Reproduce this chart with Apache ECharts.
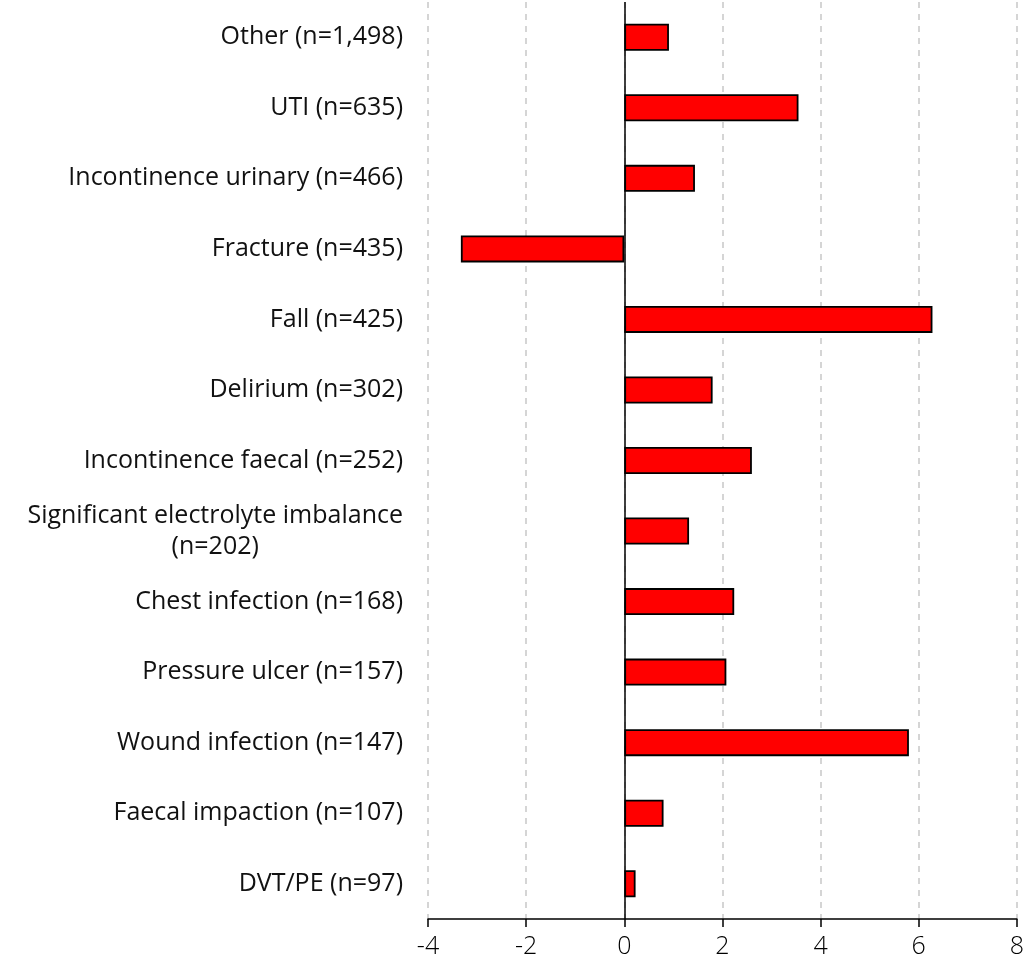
<!DOCTYPE html>
<html><head><meta charset="utf-8">
<script src="https://cdn.jsdelivr.net/npm/echarts@6/dist/echarts.min.js"></script>
<style>html,body{margin:0;padding:0;background:#fff}#c{width:1027px;height:972px}</style>
</head><body><div id="c"></div>
<script>
const categories = ["Other (n=1,498)","UTI (n=635)","Incontinence urinary (n=466)","Fracture (n=435)","Fall (n=425)","Delirium (n=302)","Incontinence faecal (n=252)","Significant electrolyte imbalance\n(n=202)","Chest infection (n=168)","Pressure ulcer (n=157)","Wound infection (n=147)","Faecal impaction (n=107)","DVT/PE (n=97)"];
const values = [0.91, 3.55, 1.44, -3.33, 6.28, 1.80, 2.60, 1.32, 2.24, 2.08, 5.80, 0.80, 0.23];
const xTicks = {min: -4, max: 8, interval: 2};

const chart = echarts.init(document.getElementById('c'));
const FONT = 'Open Sans';
const FW = 400;
chart.setOption({
  animation: false,
  grid: {left: 428, right: 10, top: 2, bottom: 53, containLabel: false},
  xAxis: {
    type: 'value', min: xTicks.min, max: xTicks.max, interval: xTicks.interval,
    axisLine: {show: true, onZero: false, lineStyle: {color: '#000', width: 1.5}},
    axisTick: {show: true, length: 8, lineStyle: {color: '#000', width: 1.5}},
    axisLabel: {color: '#000', fontSize: 25, fontFamily: FONT, fontWeight: 300, margin: 15},
    splitLine: {show: true, lineStyle: {color: '#c8c8c8', type: [6, 6], width: 1.5}}
  },
  yAxis: {
    type: 'category', data: categories, inverse: true,
    axisLine: {show: false}, axisTick: {show: false},
    axisLabel: {
      color: '#111', fontSize: 25, fontFamily: FONT, fontWeight: FW, margin: 25,
      formatter: function (v) {
        const parts = v.split('\n');
        if (parts.length === 1) return '{a|' + v + '}';
        return parts.map(p => '{c|' + p + '}').join('\n');
      },
      rich: {
        a: {fontSize: 25, fontFamily: FONT, fontWeight: FW, color: '#111'},
        c: {fontSize: 25, fontFamily: FONT, fontWeight: FW, color: '#111', align: 'center', lineHeight: 31}
      }
    },
    splitLine: {show: false}
  },
  series: [{
    type: 'bar', data: values, barWidth: 27,
    itemStyle: {color: '#ff0000', borderColor: '#000', borderWidth: 1.8},
    markLine: {
      silent: true, symbol: 'none', label: {show: false},
      lineStyle: {color: '#000', type: 'solid', width: 1.5},
      data: [{xAxis: 0}]
    }
  }]
});
</script></body></html>
